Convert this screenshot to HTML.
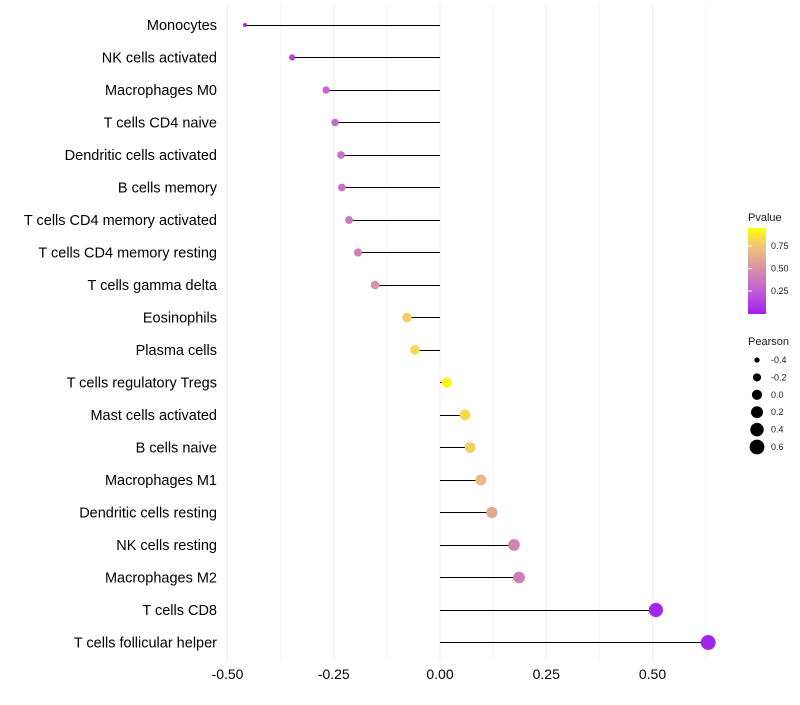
<!DOCTYPE html>
<html><head><meta charset="utf-8"><style>
body{margin:0;background:#fff;font-family:"Liberation Sans",sans-serif}
</style></head><body>
<svg id="chart" width="800" height="700" xmlns="http://www.w3.org/2000/svg" font-family="Liberation Sans, sans-serif">
<defs><linearGradient id="pg" x1="0" y1="1" x2="0" y2="0">
<stop offset="0" stop-color="#a020f0"/><stop offset="0.3" stop-color="#c465d0"/><stop offset="0.55" stop-color="#da95a0"/><stop offset="0.8" stop-color="#f0c875"/><stop offset="1" stop-color="#ffff00"/></linearGradient></defs>
<g id="grid"></g><g id="marks"></g><g id="labels"></g><g id="legend"></g>
</svg>
<script>
const categories=["Monocytes","NK cells activated","Macrophages M0","T cells CD4 naive","Dendritic cells activated","B cells memory","T cells CD4 memory activated","T cells CD4 memory resting","T cells gamma delta","Eosinophils","Plasma cells","T cells regulatory  Tregs","Mast cells activated","B cells naive","Macrophages M1","Dendritic cells resting","NK cells resting","Macrophages M2","T cells CD8","T cells follicular helper"];
const pearson=[-0.459,-0.348,-0.268,-0.247,-0.233,-0.231,-0.214,-0.193,-0.153,-0.078,-0.059,0.016,0.059,0.071,0.096,0.122,0.174,0.186,0.508,0.631];
const pvalues=[0.04,0.15,0.3,0.33,0.35,0.36,0.4,0.45,0.55,0.82,0.86,0.97,0.87,0.83,0.72,0.65,0.45,0.42,0.03,0.02];
const xTicks=[-0.5,-0.25,0,0.25,0.5];
const xTickLabels=["-0.50","-0.25","0.00","0.25","0.50"];
const pTicks=[0.25,0.5,0.75];
const sizeLegend=[-0.4,-0.2,0.0,0.2,0.4,0.6];
const NS="http://www.w3.org/2000/svg";
const x=v=>440+v*425;
const y=i=>25+i*32.5;
const r=v=>Math.sqrt(Math.max(4,26+47.7*v));
function pcol(p){const st=[[0,[160,32,240]],[0.3,[196,101,208]],[0.55,[218,149,160]],[0.8,[240,200,117]],[1,[255,255,0]]];
for(let k=1;k<st.length;k++){if(p<=st[k][0]){const a=st[k-1],b=st[k],t=(p-a[0])/(b[0]-a[0]);return `rgb(${a[1].map((c,j)=>Math.round(c+(b[1][j]-c)*t)).join(',')})`;}}return 'rgb(255,255,0)';}
function mk(tag,attrs,parent,text){const e=document.createElementNS(NS,tag);for(const k in attrs)e.setAttribute(k,attrs[k]);if(text!==undefined)e.textContent=text;document.getElementById(parent).appendChild(e);return e;}
for(let v=-0.5;v<=0.63;v+=0.125){const g=mk('line',{x1:x(v),x2:x(v),y1:5,y2:660,stroke:'#ebebeb','stroke-width':Math.abs((v*8)%2)<0.01?1:0.5},'grid');

}
xTicks.forEach((v,i)=>{const t=mk('text',{x:x(v),y:679,'text-anchor':'middle','font-size':14,fill:'#000'},'labels',xTickLabels[i]);

});
categories.forEach((c,i)=>{
const t=mk('text',{x:217,y:y(i)+5,'text-anchor':'end','font-size':14.5,fill:'#000'},'labels',c);


const yy=Math.floor(y(i))+0.5;
const l=mk('line',{x1:x(0),x2:x(pearson[i]),y1:yy,y2:yy,stroke:'#000','stroke-width':1,'shape-rendering':'crispEdges'},'marks');


const d=mk('circle',{cx:x(pearson[i]),cy:y(i),r:r(pearson[i]),fill:pcol(pvalues[i])},'marks');

});
const lt=mk('text',{x:748,y:221,'font-size':11,fill:'#1a1a1a'},'legend','Pvalue');


const cb=mk('rect',{x:748,y:228,width:18,height:86,fill:'url(#pg)'},'legend');


const py=p=>313.5-p*90;
pTicks.forEach(p=>{const tl=mk('line',{x1:748,x2:752,y1:py(p),y2:py(p),stroke:'#fff'},'legend');


const t=mk('text',{x:771,y:py(p)+3,'font-size':9,fill:'#1a1a1a'},'legend',p.toFixed(2));

});
const st=mk('text',{x:748,y:345,'font-size':11,fill:'#1a1a1a'},'legend','Pearson');


sizeLegend.forEach((v,i)=>{const cy=360+i*17.4;
const c=mk('circle',{cx:757,cy:cy,r:r(v),fill:'#000'},'legend');


const t=mk('text',{x:771,y:cy+3,'font-size':9,fill:'#1a1a1a'},'legend',v.toFixed(1));

});
</script>
</body></html>
